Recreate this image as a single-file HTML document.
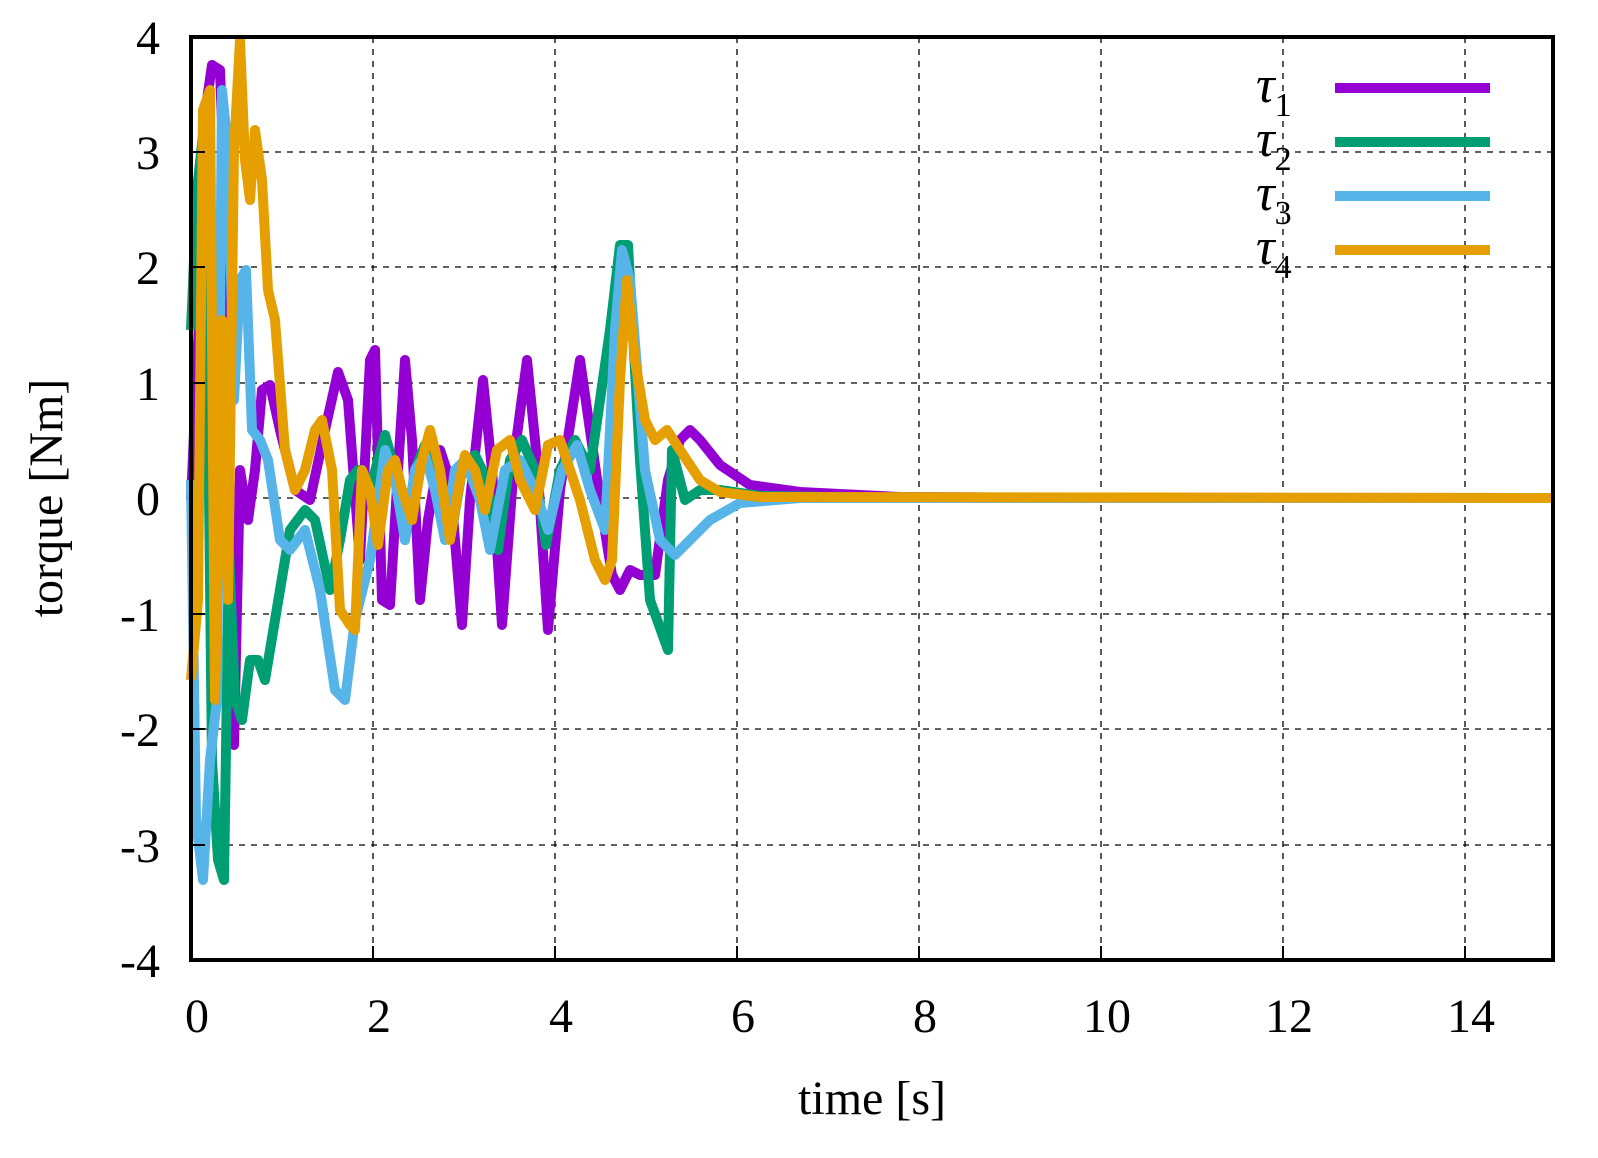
<!DOCTYPE html><html><head><style>body{margin:0;background:#fff}svg{display:block}text{font-family:"Liberation Serif",serif;fill:#000}</style></head><body>
<svg width="1598" height="1158" viewBox="0 0 1598 1158">
<g stroke="#000" stroke-width="1.3" stroke-dasharray="6,6" fill="none">
<path d="M373 37V960M555 37V960M737 37V960M919 37V960M1101 37V960M1283 37V960M1465 37V960"/>
<path d="M191 152H1553M191 267H1553M191 383H1553M191 498H1553M191 614H1553M191 729H1553M191 845H1553"/>
</g>
<g fill="none" stroke-width="10" stroke-linejoin="round">
<polyline stroke="#9400d3" points="191,500 200,300 207,100 212,65 220,70 225,200 230,740 234,745 240,470 248,520 255,470 262,390 270,385 280,430 295,490 310,500 325,430 338,372 348,400 360,560 370,360 375,350 382,600 390,605 398,470 405,360 412,440 420,600 428,520 440,450 450,480 462,625 470,500 483,380 492,470 502,625 515,450 527,360 537,460 548,630 560,490 580,360 590,430 600,500 612,575 620,590 630,570 640,575 655,575 668,480 680,440 690,430 700,440 720,465 750,485 800,492 900,497 1100,498 1553,498"/>
<polyline stroke="#009e73" points="191,330 197,190 203,135 208,400 212,760 218,860 224,880 229,550 235,700 242,720 250,660 258,660 265,680 275,620 290,530 305,510 315,520 330,590 340,540 350,480 358,470 370,490 378,460 385,435 395,470 405,540 415,470 425,445 438,480 452,530 462,470 475,455 487,480 498,550 510,460 522,440 535,470 546,545 560,470 575,440 590,470 610,330 620,245 628,245 640,460 650,600 668,650 672,450 685,500 700,490 720,490 760,496 900,498 1553,498"/>
<polyline stroke="#56b4e9" points="191,480 196,820 203,880 210,760 217,700 222,90 228,150 234,400 240,280 246,270 252,430 260,440 268,460 280,540 290,550 305,530 320,590 335,690 345,700 355,620 370,560 385,450 395,480 405,540 415,470 425,455 435,490 445,540 455,470 465,460 480,500 490,550 505,470 520,460 535,490 548,530 562,470 577,445 590,490 605,530 615,330 622,250 630,280 645,470 660,540 675,555 690,540 710,520 740,503 800,498 1553,498"/>
<polyline stroke="#e69f00" points="191,680 198,600 203,110 210,90 215,700 222,320 228,600 234,150 240,40 245,160 250,200 255,130 262,180 268,290 275,320 285,450 295,490 305,470 315,430 322,420 332,470 340,610 350,625 355,630 362,470 370,490 378,545 388,470 395,460 402,490 412,520 422,460 430,430 440,470 450,540 460,480 465,455 475,470 485,510 497,450 510,440 520,480 535,510 548,445 560,440 570,470 580,500 595,560 605,580 612,560 620,380 627,280 635,360 645,420 655,440 667,430 680,450 700,480 720,492 760,497 1553,498"/>
</g>
<rect x="191" y="37" width="1362" height="923" fill="none" stroke="#000" stroke-width="4"/>
<g stroke="#000" stroke-width="2"><path d="M373 960v-14M555 960v-14M737 960v-14M919 960v-14M1101 960v-14M1283 960v-14M1465 960v-14M191 152h14M191 267h14M191 383h14M191 614h14M191 729h14M191 845h14"/></g>
<g font-size="48" text-anchor="end">
<text x="160" y="54">4</text><text x="160" y="169">3</text><text x="160" y="284">2</text><text x="160" y="400">1</text><text x="160" y="515">0</text><text x="160" y="631">-1</text><text x="160" y="746">-2</text><text x="160" y="862">-3</text><text x="160" y="977">-4</text>
</g>
<g font-size="48" text-anchor="middle">
<text x="197" y="1032">0</text><text x="379" y="1032">2</text><text x="561" y="1032">4</text><text x="743" y="1032">6</text><text x="925" y="1032">8</text><text x="1107" y="1032">10</text><text x="1289" y="1032">12</text><text x="1471" y="1032">14</text>
<text x="872" y="1114">time [s]</text>
<text transform="translate(62,498) rotate(-90)">torque [Nm]</text>
</g>
<g font-size="52" font-style="italic">
<text x="1256" y="102">τ<tspan font-size="34" font-style="normal" dy="14">1</tspan></text>
<text x="1256" y="156">τ<tspan font-size="34" font-style="normal" dy="14">2</tspan></text>
<text x="1256" y="210">τ<tspan font-size="34" font-style="normal" dy="14">3</tspan></text>
<text x="1256" y="264">τ<tspan font-size="34" font-style="normal" dy="14">4</tspan></text>
</g>
<g stroke-width="10"><path d="M1335 88H1490" stroke="#9400d3"/><path d="M1335 142H1490" stroke="#009e73"/><path d="M1335 196H1490" stroke="#56b4e9"/><path d="M1335 250H1490" stroke="#e69f00"/></g>
</svg></body></html>
